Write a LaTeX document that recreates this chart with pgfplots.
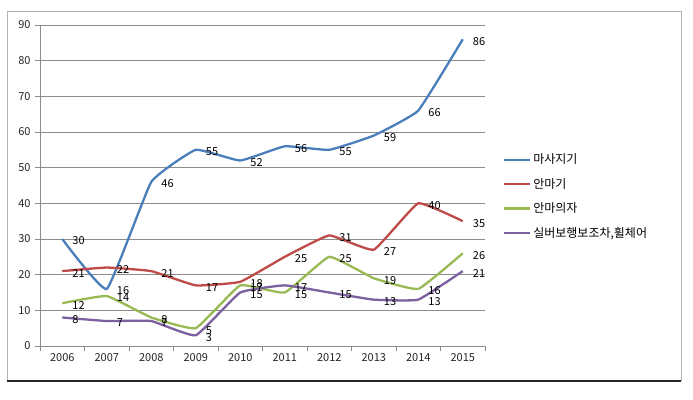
\documentclass[border=0pt]{standalone}
\usepackage{pgfplots}
\pgfplotsset{compat=1.18}
\usepackage{fontspec}
\setmainfont{Noto Sans CJK KR}
\definecolor{cblue}{HTML}{4A7EBB}
\definecolor{cred}{HTML}{BE4B48}
\definecolor{cgreen}{HTML}{98B954}
\definecolor{cpurple}{HTML}{7D60A0}
\definecolor{gridgray}{HTML}{8C8C8C}
\begin{document}
\begin{tikzpicture}[x=1pt,y=1pt]
\useasboundingbox (0,0) rectangle (693,399);
\fill[white] (0,0) rectangle (693,399);
\draw[gray!60, line width=0.8pt] (7,18) -- (7,388) -- (681,388) -- (681,18);
\draw[black!85, line width=1.3pt] (7,18) -- (681,18);
\begin{axis}[
  at={(40pt,53pt)}, anchor=south west,
  scale only axis, width=445pt, height=321pt,
  xmin=-0.5, xmax=9.5, ymin=0, ymax=90,
  clip=false,
  axis lines=left,
  axis line style={draw=gridgray, line width=0.8pt, -},
  /pgf/number format/assume math mode=true,
  ytick={0,10,...,90},
  ymajorgrids,
  grid style={gridgray, line width=0.6pt},
  xtick={-0.5,0.5,...,9.5},
  xticklabels={},
  extra x ticks={0,1,...,9},
  extra x tick labels={2006,2007,2008,2009,2010,2011,2012,2013,2014,2015},
  extra x tick style={major tick length=0pt, grid=none},
  tick align=outside,
  major tick length=5pt,
  tick style={gridgray, line width=0.8pt},
  ticklabel style={font=\fontsize{11}{13}\selectfont, text=black!85},
  yticklabel style={xshift=-1pt},
  xticklabel style={yshift=-4pt},
  nodes near coords,
  every node near coord/.append style={anchor=west, font=\fontsize{11}{13}\selectfont, text=black, xshift=8pt, yshift=-2pt, inner sep=1pt},
  legend style={draw=none, fill=none, at={(1.04,0.605)}, anchor=north west,
    font=\fontsize{12}{14}\selectfont, row sep=9pt, inner sep=0pt},
  legend cell align=left,
  legend image code/.code={\draw[#1, line width=2.3pt] (0pt,0pt) -- (26pt,0pt);},
  every axis plot/.append style={line width=2.3pt, smooth, tension=0.2},
]
\addplot[color=cblue] coordinates {(0,30)(1,16)(2,46)(3,55)(4,52)(5,56)(6,55)(7,59)(8,66)(9,86)};
\addlegendentry{마사지기}
\addplot[color=cred] coordinates {(0,21)(1,22)(2,21)(3,17)(4,18)(5,25)(6,31)(7,27)(8,40)(9,35)};
\addlegendentry{안마기}
\addplot[color=cgreen] coordinates {(0,12)(1,14)(2,8)(3,5)(4,17)(5,15)(6,25)(7,19)(8,16)(9,26)};
\addlegendentry{안마의자}
\addplot[color=cpurple] coordinates {(0,8)(1,7)(2,7)(3,3)(4,15)(5,17)(6,15)(7,13)(8,13)(9,21)};
\addlegendentry{실버보행보조차,휠체어}
\end{axis}
\end{tikzpicture}
\end{document}
